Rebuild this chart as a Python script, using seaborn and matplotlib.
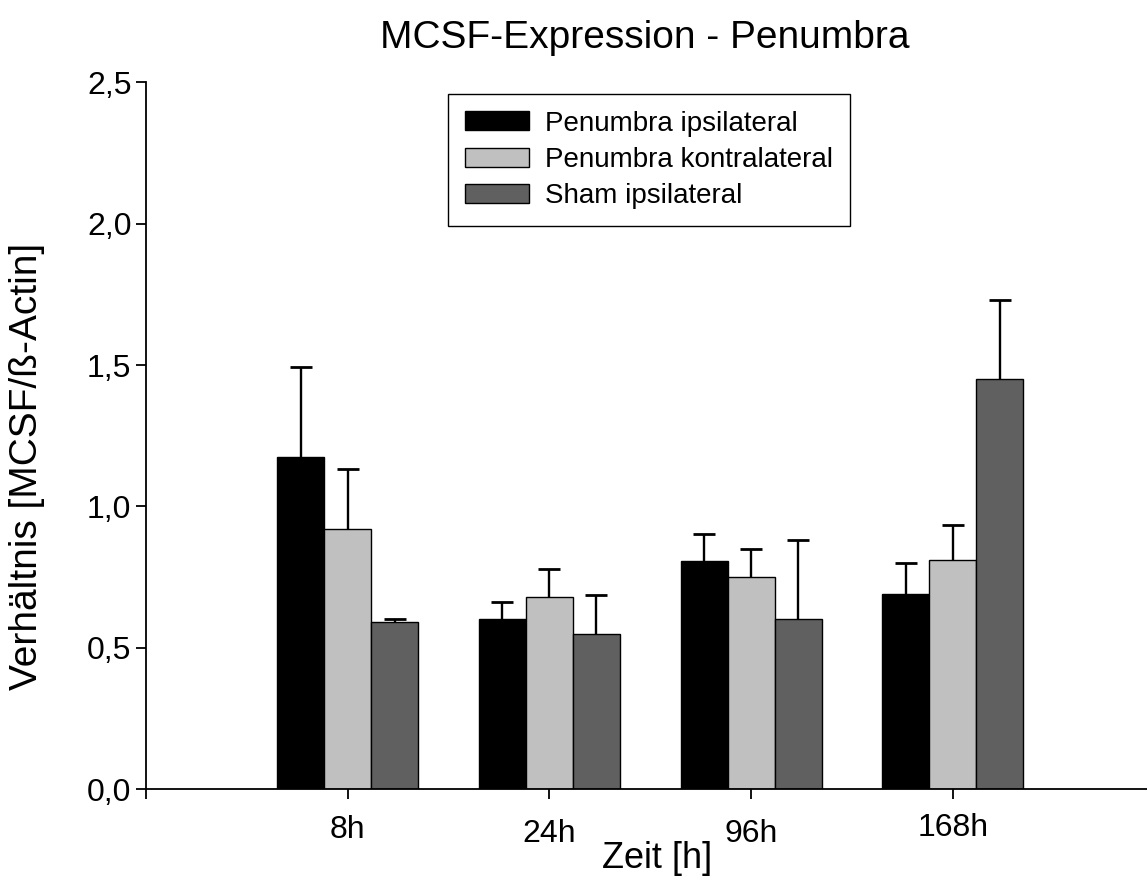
import matplotlib
matplotlib.use("Agg")
import matplotlib.pyplot as plt
import seaborn as sns
import pandas as pd
import numpy as np

# ---- data ----
zeitpunkte = ["8h", "24h", "96h", "168h"]
gruppen = ["Penumbra ipsilateral", "Penumbra kontralateral", "Sham ipsilateral"]
penumbra_ipsi = [1.175, 0.603, 0.806, 0.691]
penumbra_kontra = [0.920, 0.680, 0.750, 0.812]
sham_ipsi = [0.592, 0.548, 0.602, 1.450]
penumbra_ipsi_err = [0.319, 0.058, 0.098, 0.109]
penumbra_kontra_err = [0.213, 0.099, 0.100, 0.121]
sham_ipsi_err = [0.010, 0.139, 0.278, 0.279]
y_ticks = [0.0, 0.5, 1.0, 1.5, 2.0, 2.5]
y_tick_labels = ["0,0", "0,5", "1,0", "1,5", "2,0", "2,5"]
farben = ["#000000", "#c0c0c0", "#606060"]

werte = [penumbra_ipsi, penumbra_kontra, sham_ipsi]
fehler = [penumbra_ipsi_err, penumbra_kontra_err, sham_ipsi_err]

df = pd.DataFrame({
    "Zeit": [z for g in gruppen for z in zeitpunkte],
    "Gruppe": [g for g in gruppen for z in zeitpunkte],
    "Wert": [v for w in werte for v in w],
})
df["Zeit"] = pd.Categorical(df["Zeit"], categories=zeitpunkte, ordered=True)

sns.set_style("ticks")
plt.rcParams["font.family"] = ["Liberation Sans", "DejaVu Sans"]
plt.rcParams["text.color"] = "black"

fig = plt.figure(figsize=(11.47, 8.77), dpi=100)
W, H = 1147, 877
ax_left, ax_right, ax_top, ax_bottom = 146, 1154.5, 82.3, 789.3
ax = fig.add_axes([ax_left / W, 1 - ax_bottom / H, (ax_right - ax_left) / W, (ax_bottom - ax_top) / H])

sns.barplot(data=df, x="Zeit", y="Wert", hue="Gruppe", hue_order=gruppen,
            order=zeitpunkte, palette=farben, width=0.7, edgecolor="black",
            linewidth=1.0, errorbar=None, ax=ax, saturation=1, legend=True)

# upper-only error bars (stem + cap)
for cont, w, e in zip(ax.containers, werte, fehler):
    xs = np.array([p.get_x() + p.get_width() / 2 for p in cont.patches])
    w = np.asarray(w)
    tops = w + np.asarray(e)
    ax.vlines(xs, w, tops, colors="black", linewidth=1.7, zorder=1)
    ax.plot(xs, tops, linestyle="none", marker="_", markersize=16,
            markeredgewidth=2.0, color="black", zorder=3)

ax.set_xlim(-1, 4)
ax.set_ylim(0, 2.5)
ax.set_yticks(y_ticks)
ax.set_yticklabels(y_tick_labels)
ax.set_xticks([-1, 0, 1, 2, 3])
ax.set_xticklabels([""] + zeitpunkte)

for s in ["top", "right"]:
    ax.spines[s].set_visible(False)
for s in ["left", "bottom"]:
    ax.spines[s].set_color("black")
    ax.spines[s].set_linewidth(1.3)

ax.tick_params(axis="both", direction="out", length=7.5, width=1.3, color="black",
               labelsize=23, labelcolor="black")
ax.tick_params(axis="y", pad=3)
pads = [4, 11, 14, 14, 9.5]
for t, p in zip(ax.xaxis.get_major_ticks(), pads):
    t.set_pad(p)

ax.set_xlabel("Zeit [h]", fontsize=26, color="black")
ax.xaxis.set_label_coords(0.507, -0.0725)
ax.set_ylabel("Verhältnis [MCSF/ß-Actin]", fontsize=28, color="black")
ax.yaxis.set_label_coords(-0.100, 0.457)
ax.set_title("MCSF-Expression - Penumbra", fontsize=28, color="black", pad=25, x=0.495)

handles, labels = ax.get_legend_handles_labels()
leg = ax.legend(handles, labels, loc="upper left", bbox_to_anchor=(448 / W, 1 - 94 / H),
                bbox_transform=fig.transFigure, fontsize=20, frameon=True, fancybox=False,
                edgecolor="black", framealpha=1, borderaxespad=0, borderpad=0.6,
                handlelength=2.3, handleheight=0.68, handletextpad=0.6, labelspacing=0.37,
                labelcolor="black")
leg.get_frame().set_linewidth(1.0)

fig.savefig("out.png", dpi=100)
